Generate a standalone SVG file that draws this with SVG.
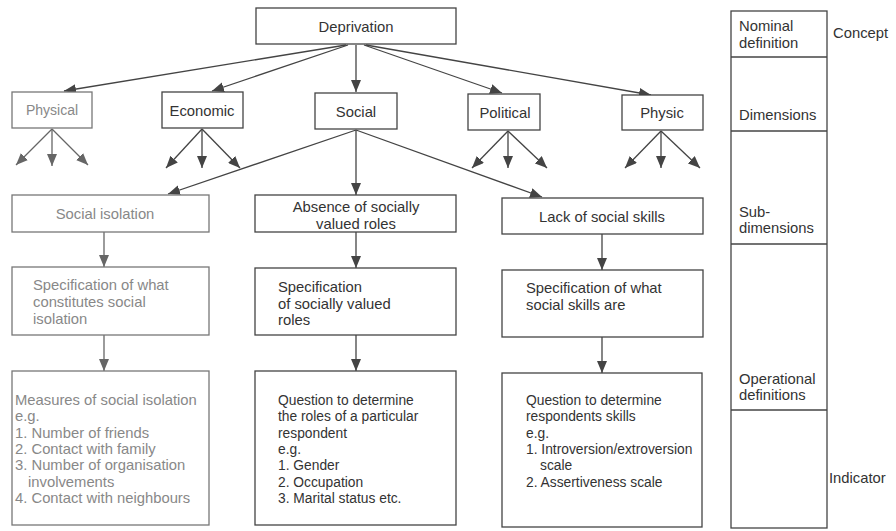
<svg xmlns="http://www.w3.org/2000/svg" width="896" height="531" viewBox="0 0 896 531">
<defs>
<marker id="ah" markerUnits="userSpaceOnUse" markerWidth="12" markerHeight="10" refX="12" refY="5" orient="auto">
<path d="M0,0 L12,5 L0,10 z" fill="#444"/>
</marker>
<marker id="ahg" markerUnits="userSpaceOnUse" markerWidth="12" markerHeight="10" refX="12" refY="5" orient="auto">
<path d="M0,0 L12,5 L0,10 z" fill="#666"/>
</marker>
</defs>
<style>
.box{fill:#fff;stroke:#444;stroke-width:1.3}
.fbox{fill:#fff;stroke:#777;stroke-width:1.3}
.t{font-family:"Liberation Sans",Arial,sans-serif;font-size:14.8px;fill:#333}
.s{font-size:13.8px}
.g{fill:#888;font-size:14.8px}
.c{text-anchor:middle}
.ln{stroke:#444;stroke-width:1.3;fill:none;marker-end:url(#ah)}
.lg{stroke:#666;stroke-width:1.3;fill:none;marker-end:url(#ahg)}
</style>
<rect width="896" height="531" fill="#fff"/>

<g id="connectors">
<line class="ln" x1="346" y1="45" x2="64" y2="91"/>
<line class="ln" x1="348" y1="45" x2="212" y2="91"/>
<line class="ln" x1="356" y1="45" x2="356" y2="92"/>
<line class="ln" x1="364" y1="45" x2="502" y2="93"/>
<line class="ln" x1="366" y1="45" x2="651" y2="95"/>
<line class="lg" x1="52" y1="129" x2="16" y2="165"/>
<line class="lg" x1="52" y1="129" x2="52" y2="166"/>
<line class="lg" x1="52" y1="129" x2="88" y2="165"/>
<line class="ln" x1="202" y1="129" x2="166" y2="168"/>
<line class="ln" x1="202" y1="129" x2="202" y2="168"/>
<line class="ln" x1="202" y1="129" x2="240" y2="168"/>
<line class="ln" x1="508" y1="131" x2="472" y2="168"/>
<line class="ln" x1="508" y1="131" x2="508" y2="168"/>
<line class="ln" x1="508" y1="131" x2="547" y2="168"/>
<line class="ln" x1="661" y1="131" x2="625" y2="168"/>
<line class="ln" x1="661" y1="131" x2="661" y2="168"/>
<line class="ln" x1="661" y1="131" x2="700" y2="168"/>
<line class="ln" x1="356" y1="130" x2="168" y2="194"/>
<line class="ln" x1="356" y1="130" x2="356" y2="195"/>
<line class="ln" x1="356" y1="130" x2="542" y2="197"/>
<line class="lg" x1="104" y1="232" x2="104" y2="267"/>
<line class="ln" x1="356" y1="232" x2="356" y2="268"/>
<line class="ln" x1="602" y1="234" x2="602" y2="270"/>
<line class="lg" x1="104" y1="335" x2="104" y2="371"/>
<line class="ln" x1="356" y1="335" x2="356" y2="371"/>
<line class="ln" x1="602" y1="337" x2="602" y2="373"/>
</g>

<g id="deprivation">
<rect class="box" x="256" y="8" width="200" height="36"/>
<text class="t c" x="356" y="32">Deprivation</text>
</g>
<g id="physical">
<rect class="fbox" x="12" y="92" width="80" height="36"/>
<text class="t c g" x="52" y="115" style="font-size:14px">Physical</text>
</g>
<g id="economic">
<rect class="box" x="162" y="92" width="81" height="36"/>
<text class="t c" x="202" y="116">Economic</text>
</g>
<g id="social">
<rect class="box" x="315" y="93" width="82" height="36"/>
<text class="t c" x="356" y="117">Social</text>
</g>
<g id="political">
<rect class="box" x="468" y="94" width="72" height="36"/>
<text class="t c" x="505" y="118">Political</text>
</g>
<g id="physic">
<rect class="box" x="622" y="95" width="81" height="35"/>
<text class="t c" x="662" y="118">Physic</text>
</g>

<g id="social-isolation">
<rect class="fbox" x="12" y="195" width="197" height="37"/>
<text class="t c g" x="105" y="219">Social isolation</text>
</g>
<g id="absence-roles">
<rect class="box" x="255" y="195" width="201" height="37"/>
<text class="t c" x="356" y="212">Absence of socially</text>
<text class="t c" x="356" y="229">valued roles</text>
</g>
<g id="lack-skills">
<rect class="box" x="502" y="198" width="201" height="36"/>
<text class="t c" x="602" y="222">Lack of social skills</text>
</g>

<g id="spec-isolation">
<rect class="fbox" x="12" y="267" width="197" height="68"/>
<text class="t g" x="33" y="290">Specification of what</text>
<text class="t g" x="33" y="307">constitutes social</text>
<text class="t g" x="33" y="324">isolation</text>
</g>
<g id="spec-roles">
<rect class="box" x="255" y="268" width="201" height="67"/>
<text class="t" x="278" y="292">Specification</text>
<text class="t" x="278" y="309">of socially valued</text>
<text class="t" x="278" y="325">roles</text>
</g>
<g id="spec-skills">
<rect class="box" x="502" y="270" width="201" height="67"/>
<text class="t" x="526" y="293">Specification of what</text>
<text class="t" x="526" y="310">social skills are</text>
</g>

<g id="measures-isolation">
<rect class="fbox" x="12" y="371" width="197" height="154"/>
<text class="t g" x="15" y="405">Measures of social isolation</text>
<text class="t g" x="15" y="421">e.g.</text>
<text class="t g" x="15" y="438">1. Number of friends</text>
<text class="t g" x="15" y="454">2. Contact with family</text>
<text class="t g" x="15" y="470">3. Number of organisation</text>
<text class="t g" x="28" y="487">involvements</text>
<text class="t g" x="15" y="503">4. Contact with neighbours</text>
</g>
<g id="question-roles">
<rect class="box" x="255" y="371" width="201" height="154"/>
<text class="t s" x="278" y="405">Question to determine</text>
<text class="t s" x="278" y="421">the roles of a particular</text>
<text class="t s" x="278" y="438">respondent</text>
<text class="t s" x="278" y="454">e.g.</text>
<text class="t s" x="278" y="470">1. Gender</text>
<text class="t s" x="278" y="487">2. Occupation</text>
<text class="t s" x="278" y="503">3. Marital status etc.</text>
</g>
<g id="question-skills">
<rect class="box" x="502" y="373" width="200" height="154"/>
<text class="t s" x="526" y="405">Question to determine</text>
<text class="t s" x="526" y="421">respondents skills</text>
<text class="t s" x="526" y="438">e.g.</text>
<text class="t s" x="526" y="454">1. Introversion/extroversion</text>
<text class="t s" x="540" y="470">scale</text>
<text class="t s" x="526" y="487">2. Assertiveness scale</text>
</g>

<g id="levels">
<rect class="box" x="731" y="11" width="96" height="517"/>
<line stroke="#444" stroke-width="1.3" x1="731" y1="57" x2="827" y2="57"/>
<line stroke="#444" stroke-width="1.3" x1="731" y1="131" x2="827" y2="131"/>
<line stroke="#444" stroke-width="1.3" x1="731" y1="244" x2="827" y2="244"/>
<line stroke="#444" stroke-width="1.3" x1="731" y1="410" x2="827" y2="410"/>
<text class="t" x="739" y="31">Nominal</text>
<text class="t" x="739" y="48">definition</text>
<text class="t" x="739" y="120">Dimensions</text>
<text class="t" x="739" y="217">Sub-</text>
<text class="t" x="739" y="233">dimensions</text>
<text class="t" x="739" y="384">Operational</text>
<text class="t" x="739" y="400">definitions</text>
</g>
<g id="concept">
<text class="t" x="833" y="38">Concept</text>
</g>
<g id="indicator">
<text class="t" x="829" y="483">Indicator</text>
</g>
</svg>
